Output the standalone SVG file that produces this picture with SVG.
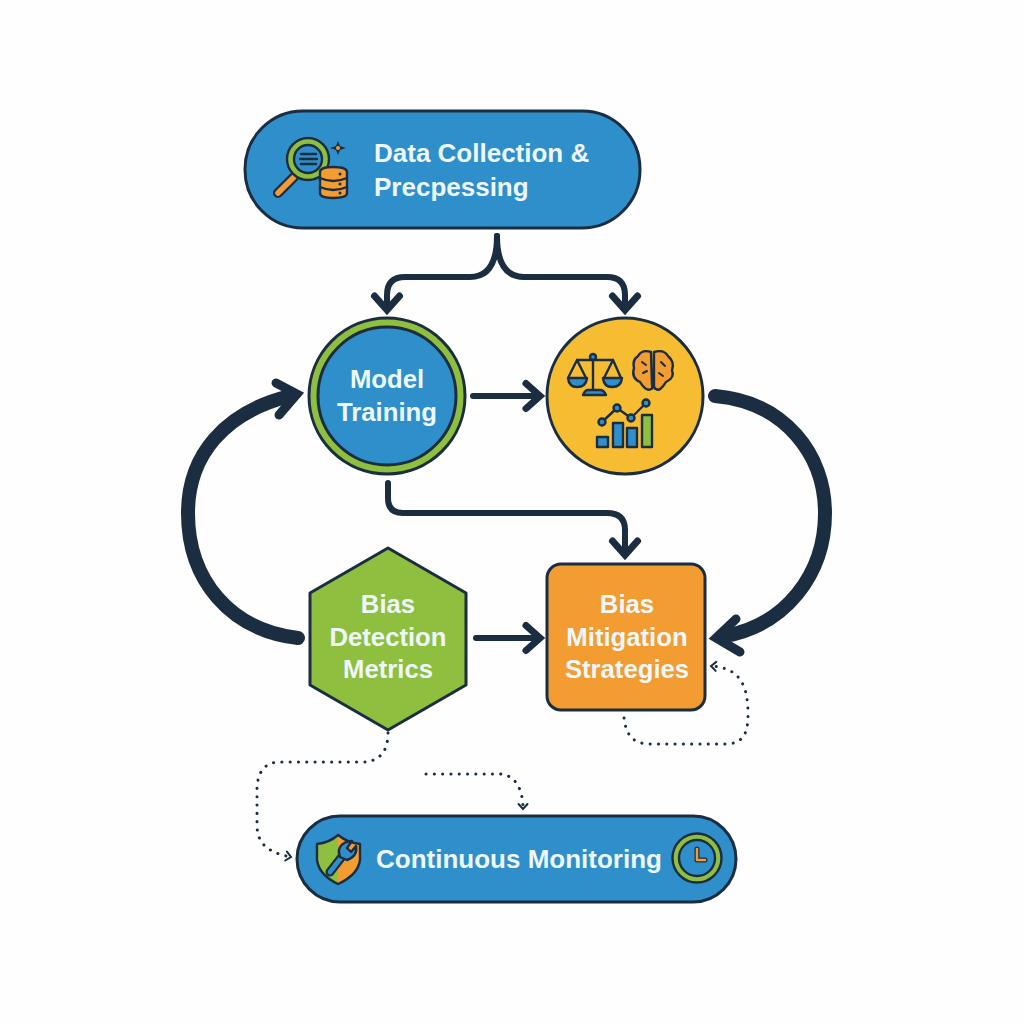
<svg xmlns="http://www.w3.org/2000/svg" width="1024" height="1024" viewBox="0 0 1024 1024">
<style>
.n{stroke:#1b2d40;stroke-width:3}
.t{font-family:"Liberation Sans",Arial,sans-serif;font-weight:700;font-size:25.7px;fill:#eef8fb;text-anchor:middle}
.w{font-size:26px}
.c{fill:none;stroke:#1b2d40;stroke-linecap:round;stroke-linejoin:round}
.m{stroke-width:6}.h{stroke-width:14}.hd{stroke-width:9;stroke-linejoin:miter;fill:none;stroke:#1b2d40;stroke-linecap:round}
.d{stroke-width:3;stroke-dasharray:.1 8.2}
.i{stroke:#1b2d40;stroke-width:2.4;stroke-linejoin:round;stroke-linecap:round}
.blue{fill:#2f8fcb}.org{fill:#f39c32}.grn{fill:#8fbf3f}
</style>
<defs>
<marker id="am" markerUnits="userSpaceOnUse" viewBox="-20 -20 30 40" refX="0" refY="0" markerWidth="30" markerHeight="40" orient="auto"><path d="M-13 -12.5L1 0L-13 12.5" fill="none" stroke="#1b2d40" stroke-width="7" stroke-linecap="round" stroke-linejoin="miter"/></marker>
<marker id="as" markerUnits="userSpaceOnUse" viewBox="-10 -10 16 20" refX="0" refY="0" markerWidth="16" markerHeight="20" orient="auto"><path d="M-5 -4.5L0 0L-5 4.5" fill="none" stroke="#1b2d40" stroke-width="2" stroke-linecap="round" stroke-linejoin="miter"/></marker>
<linearGradient id="sh"><stop offset=".5" stop-color="#8fbf3f"/><stop offset=".5" stop-color="#f39c32"/></linearGradient>
</defs>
<rect width="1024" height="1024" fill="#fefefe"/>
<g id="connectors">
<path class="c m" d="M497 236C497 260 490 277 470 277H405Q387 277 387 295V309" marker-end="url(#am)"/>
<path class="c m" d="M497 236C497 260 504 277 524 277H607Q625 277 625 295V309" marker-end="url(#am)"/>
<path class="c m" d="M473 396H539" marker-end="url(#am)"/>
<path class="c m" d="M388 483V498Q388 513 403 513H607Q625 513 625 530V554" marker-end="url(#am)"/>
<path class="c m" d="M476 638H539" marker-end="url(#am)"/>
<path class="c h" d="M298 638C230 630 188 580 188 513C188 455 225 412 290 396"/>
<path class="hd" d="M276 383L297 394L279 415"/>
<path class="c h" d="M715 396C785 402 825 455 825 513C825 575 785 625 725 636"/>
<path class="hd" d="M736 619L716 638L740 652"/>
<path class="c d" d="M624 718C626 736 634 744 650 744H725C742 744 748 735 748 715C748 682 738 668 711 666" marker-end="url(#as)"/>
<path class="c d" d="M388 733C388 753 378 762 362 762H280C265 762 257 772 257 790V825C257 845 270 853 291 857" marker-end="url(#as)"/>
<path class="c d" d="M426 774H500C516 775 523 790 523 809" marker-end="url(#as)"/>
</g>
<g id="data-collection">
<rect class="n blue" x="245" y="111" width="395" height="117" rx="58"/>
<g class="i">
<path fill="none" stroke-width="10" d="M278 193L294 177"/>
<path fill="none" stroke="#f39c32" stroke-width="5.5" d="M278 193L294 177"/>
<circle cx="308" cy="159" r="21" fill="#8fbf3f"/>
<circle cx="308" cy="159" r="14" fill="#2f8fcb"/>
<path fill="none" d="M301 154H316M300 159H317M301 164H316"/>
<path fill="#f39c32" d="M320 172Q320 167 333 167Q347 167 347 172V193Q347 198 333 198Q320 198 320 193Z"/>
<path fill="none" d="M320 178Q333 184 347 178M320 187Q333 193 347 187"/>
<path fill="#1b2d40" stroke="none" d="M338 141L340 146L346 148L340 150L338 155L336 150L330 148L336 146Z"/>
<circle cx="338" cy="148" r="2" fill="#f39c32" stroke="none"/>
<circle cx="340" cy="174" r="1.5" fill="#1b2d40" stroke="none"/><circle cx="340" cy="184" r="1.5" fill="#1b2d40" stroke="none"/><circle cx="340" cy="193" r="1.5" fill="#1b2d40" stroke="none"/>
</g>
<text class="t w" x="374" y="162" style="text-anchor:start">Data Collection &amp;</text>
<text class="t w" x="374" y="196" style="text-anchor:start">Precpessing</text>
</g>
<g id="model-training">
<circle class="n" cx="387" cy="396" r="78" fill="#8fbf3f"/>
<circle class="n blue" cx="387" cy="396" r="69"/>
<text class="t" x="387" y="388">Model</text>
<text class="t" x="387" y="421">Training</text>
</g>
<g id="analysis-icons">
<circle class="n" cx="625" cy="396" r="78" fill="#f6bd33"/>
<g class="i" stroke-width="2.6">
<path fill="none" d="M593 357V392M577 360H613M577 360L568 378M577 360L586 378M613 360L604 378M613 360L621 378"/>
<path class="blue" d="M568 378H587Q586 387 577 387Q569 387 568 378ZM603 378H622Q621 387 612 387Q604 387 603 378Z"/>
<path class="blue" d="M583 395Q585 390 588 390H600Q604 390 606 395Z"/>
<circle class="blue" cx="593" cy="357" r="3"/>
<path class="org" d="M651 352Q642 349 638 356Q632 360 634 368Q631 378 640 382Q646 392 651 389Q653 389 652 385ZM654 352Q664 349 668 356Q675 362 672 370Q675 378 666 382Q660 392 656 389Q654 389 654 385Z"/>
<path fill="none" stroke-width="2" d="M642 362L646 365M643 373L647 371M661 362L665 366M659 373L663 376"/>
<path fill="none" d="M602 422L617 408L631 418L646 403"/>
<circle class="blue" cx="602" cy="422" r="3.5"/><circle class="blue" cx="617" cy="408" r="3.5"/><circle class="blue" cx="631" cy="418" r="3.5"/><circle class="blue" cx="646" cy="403" r="3.5"/>
<rect class="blue" x="597" y="437" width="11" height="10"/>
<rect class="blue" x="613" y="423" width="10" height="24"/>
<rect class="blue" x="627" y="428" width="10" height="19"/>
<rect class="grn" x="642" y="415" width="10" height="32"/>
</g>
</g>
<g id="bias-detection">
<path class="n grn" stroke-linejoin="round" d="M388 548L466 593V685L388 730L310 685V593Z"/>
<text class="t" x="388" y="613">Bias</text>
<text class="t" x="388" y="646">Detection</text>
<text class="t" x="388" y="678">Metrics</text>
</g>
<g id="bias-mitigation">
<rect class="n org" x="547" y="564" width="158" height="146" rx="14"/>
<text class="t" x="627" y="613">Bias</text>
<text class="t" x="627" y="646">Mitigation</text>
<text class="t" x="627" y="678">Strategies</text>
</g>
<g id="continuous-monitoring">
<rect class="n blue" x="297" y="816" width="439" height="86" rx="43"/>
<g class="i">
<path fill="url(#sh)" d="M338 835Q348 843 360 844V860Q358 875 338 884Q319 875 317 860V844Q329 843 338 835Z"/>
<path fill="none" stroke-width="9" d="M330 872L344 854"/>
<path fill="none" stroke="#2f8fcb" stroke-width="4.5" d="M330 872L344 854"/>
<path class="blue" d="M340 857Q336 847 346 842L352 841L347 848L351 852L356 846Q358 856 347 860Z"/>
</g>
<text class="t w" x="519" y="868">Continuous Monitoring</text>
<g class="i">
<circle cx="697" cy="858" r="24.5" fill="#8fbf3f"/>
<circle class="blue" cx="697" cy="858" r="18"/>
<path fill="none" stroke-width="5" d="M697 849V860H705"/>
<path fill="none" stroke="#f39c32" stroke-width="2.5" d="M697 849V860H705"/>
</g>
</g>
</svg>
